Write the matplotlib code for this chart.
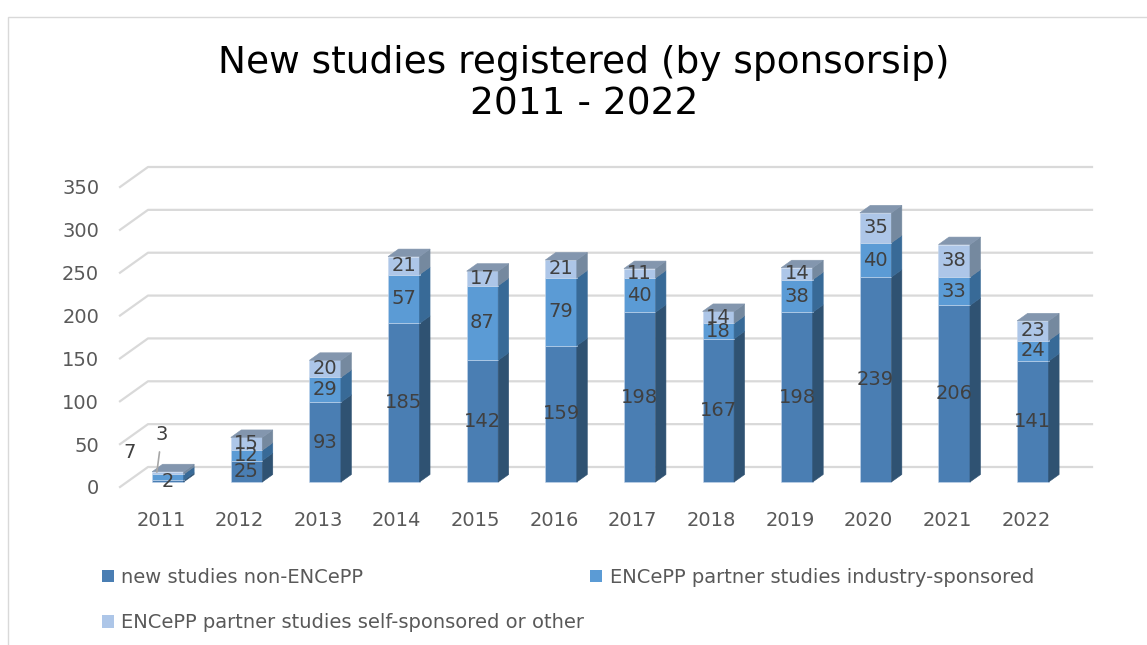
import matplotlib.pyplot as plt
from matplotlib.patches import Polygon, Rectangle, Patch

years = [2011, 2012, 2013, 2014, 2015, 2016, 2017, 2018, 2019, 2020, 2021, 2022]
non_encepp = [2, 25, 93, 185, 142, 159, 198, 167, 198, 239, 206, 141]
industry = [7, 12, 29, 57, 87, 79, 40, 18, 38, 40, 33, 24]
self_sponsored = [3, 15, 20, 21, 17, 21, 11, 14, 14, 35, 38, 23]
series_names = [
    "new studies non-ENCePP",
    "ENCePP partner studies industry-sponsored",
    "ENCePP partner studies self-sponsored or other",
]

front_colors = ["#4a7eb3", "#5b9bd5", "#adc6e8"]
side_colors = ["#2f5272", "#386a97", "#75899f"]
top_color = "#8396ae"
legend_colors = ["#4a7eb3", "#5b9bd5", "#adc6e8"]
label_color = "#404040"
tick_color = "#595959"
grid_color = "#d9d9d9"

W, H = 1147, 645
fig = plt.figure(figsize=(W / 100, H / 100), dpi=100)
ax = fig.add_axes([120 / W, 158 / H, 944 / W, 300 / H])
ax.set_xlim(-0.52, 11.485)
ax.set_ylim(0, 350)

# pixel sizes of the fake 3d look, turned into data units
ux = 1 / 78.64
uy = 350 / 300
wall_dx, wall_dy = 28 * ux, 20 * uy
bar_dx, bar_dy = 7 * ux, 5 * uy
side_dx, side_dy = 10.5 * ux, 7.5 * uy
bar_w = 31.5 * ux

yticks = list(range(0, 351, 50))
x0, x1 = ax.get_xlim()
for y in yticks:
    ax.plot([x0, x0 + wall_dx, x1 + wall_dx], [y, y + wall_dy, y + wall_dy],
            color=grid_color, lw=1.6, clip_on=False, zorder=1)

series = [non_encepp, industry, self_sponsored]
for i in range(len(years)):
    xl = i + bar_dx - bar_w / 2
    xr = i + bar_dx + bar_w / 2
    bottom = 0
    for k, values in enumerate(series):
        h = values[i]
        yb = bottom + bar_dy
        yt = bottom + h + bar_dy
        ax.add_patch(Rectangle((xl, yb), bar_w, h, facecolor=front_colors[k],
                               edgecolor="#c5d6ec", lw=0.4, zorder=3, clip_on=False))
        ax.add_patch(Polygon([(xr, yb), (xr + side_dx, yb + side_dy),
                              (xr + side_dx, yt + side_dy), (xr, yt)],
                             closed=True, facecolor=side_colors[k],
                             edgecolor=side_colors[k], lw=0.4, zorder=3, clip_on=False))
        bottom += h
    top = bottom + bar_dy
    ax.add_patch(Polygon([(xl, top), (xr, top), (xr + side_dx, top + side_dy),
                          (xl + side_dx, top + side_dy)],
                         closed=True, facecolor=top_color, edgecolor=top_color,
                         lw=0.4, zorder=3, clip_on=False))

# data labels, the 2011 ones moved out of the thin bar like in the original
fs = 14
for i in range(len(years)):
    bottom = 0
    for k, values in enumerate(series):
        h = values[i]
        cx = i + bar_dx
        cy = bottom + h / 2 + bar_dy
        if i == 0 and k == 1:
            ax.annotate(str(h), xy=(cx, cy), xytext=(-38, 25), textcoords="offset pixels",
                        ha="center", va="center", fontsize=fs, color=label_color, zorder=5)
        elif i == 0 and k == 2:
            ax.annotate(str(h), xy=(cx - bar_w * 0.35, cy + 1), xytext=(5, 38),
                        textcoords="offset pixels", ha="center", va="center",
                        fontsize=fs, color=label_color, zorder=5,
                        arrowprops=dict(arrowstyle="-", color="#a6a6a6", lw=1.2,
                                        shrinkA=4, shrinkB=0))
        else:
            ax.text(cx, cy, str(h), ha="center", va="center", fontsize=fs,
                    color=label_color, zorder=5)
        bottom += h

ax.set_xticks(range(len(years)))
ax.set_xticklabels([str(y) for y in years])
ax.set_yticks(yticks)
ax.tick_params(axis="y", length=0, labelsize=14, colors=tick_color, pad=15)
ax.tick_params(axis="x", length=0, labelsize=14, colors=tick_color, pad=17)
for s in ax.spines.values():
    s.set_visible(False)
ax.patch.set_visible(False)

fig.text(0.509, 0.8705, "New studies registered (by sponsorsip)\n2011 - 2022",
         ha="center", va="center", fontsize=27, color="black")

handles = [Patch(facecolor=c, edgecolor="none", label=n)
           for c, n in zip(legend_colors, series_names)]
fig.legend(handles=[handles[0], handles[2], handles[1]], ncol=2, loc="upper left",
           bbox_to_anchor=(102 / W, 1 - 568 / H), frameon=False, fontsize=14,
           handlelength=0.6, handleheight=0.6, handletextpad=0.4,
           columnspacing=0.3, labelspacing=1.36, borderaxespad=0, borderpad=0,
           labelcolor=tick_color)

fig.add_artist(Rectangle((8 / W, -0.05), 1.1, 1 - 17 / H + 0.05, transform=fig.transFigure,
                         fill=False, edgecolor=grid_color, lw=1))

fig.savefig("out.png", dpi=100)
